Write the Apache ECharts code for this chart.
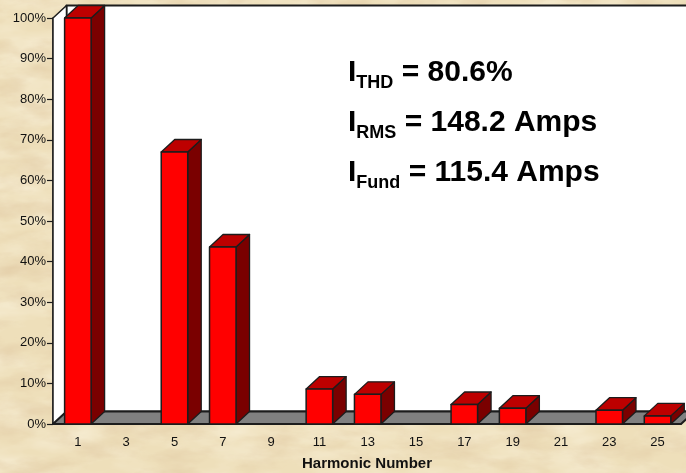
<!DOCTYPE html>
<html>
<head>
<meta charset="utf-8">
<title></title>
<script src="https://cdn.jsdelivr.net/npm/echarts@6/dist/echarts.min.js"></script>
<style>
html,body{margin:0;padding:0;width:686px;height:473px;overflow:hidden;background:#eedfba;}
#tex{position:absolute;left:0;top:0;}
#main{position:absolute;left:0;top:0;width:686px;height:473px;}
</style>
</head>
<body>
<svg id="tex" width="686" height="473">
	<filter id="paper" x="0" y="0" width="100%" height="100%">
		<feTurbulence type="fractalNoise" baseFrequency="0.015 0.04" numOctaves="4" seed="7"/>
		<feColorMatrix type="matrix" values="0 0 0 0 0.96  0 0 0 0 0.90  0 0 0 0 0.74  1.2 0 0 0 -0.45"/>
	</filter>
	<filter id="stain" x="0" y="0" width="100%" height="100%">
		<feTurbulence type="fractalNoise" baseFrequency="0.02 0.05" numOctaves="5" seed="21"/>
		<feColorMatrix type="matrix" values="0 0 0 0 0.76  0 0 0 0 0.60  0 0 0 0 0.38  0 1.5 0 0 -0.62"/>
	</filter>
	<rect width="686" height="473" filter="url(#paper)"/>
	<rect width="686" height="473" filter="url(#stain)"/>
</svg>
<div id="main"></div>
<script>
var categories = ['1','3','5','7','9','11','13','15','17','19','21','23','25'];
var values = [100,0,67,43.6,0,8.6,7.3,0,4.8,3.9,0,3.4,2];
var readings = [
	['THD',' = 80.6%'],
	['RMS',' = 148.2 Amps'],
	['Fund',' = 115.4 Amps']
];

var depthX = 13.5, depthY = 12.5;
var barW = 26.5;
var edge = '#1c1c1c';

function poly(points, fill, lw){
	return {type:'polygon', shape:{points:points}, style:{fill:fill, stroke:edge, lineWidth:lw, lineJoin:'round'}};
}

// walls and floor of the 3d box
function renderBox(params, api){
	var c = params.coordSys;
	var l = c.x, r = c.x + c.width, t = c.y, b = c.y + c.height;
	return {type:'group', children:[
		poly([[l+depthX,t-depthY],[r+depthX,t-depthY],[r+depthX,b-depthY],[l+depthX,b-depthY]],'#fff',2),
		poly([[l,t],[l+depthX,t-depthY],[l+depthX,b-depthY],[l,b]],'#fff',1.5),
		poly([[l,b],[l+depthX,b-depthY],[r+depthX,b-depthY],[r,b]],'#808080',2)
	]};
}

function renderBar(params, api){
	var v = api.value(1);
	if(!v) return null;
	var p = api.coord([api.value(0), v]);
	var base = api.coord([api.value(0), 0]);
	var x0 = p[0]+0.7-barW/2, x1 = p[0]+0.7+barW/2, y0 = p[1], y1 = base[1];
	return {type:'group', children:[
		poly([[x1,y0],[x1+depthX,y0-depthY],[x1+depthX,y1-depthY],[x1,y1]],'#7a0000',1.3),
		poly([[x0,y0],[x0+depthX,y0-depthY],[x1+depthX,y0-depthY],[x1,y0]],'#bd0000',1.3),
		poly([[x0,y0],[x1,y0],[x1,y1],[x0,y1]],'#ff0000',1.5)
	]};
}

var myChart = echarts.init(document.getElementById('main'));
var barData = [];
for(var i=0;i<values.length;i++){
	barData.push([i,values[i]]);
}

var textItems = [];
for(var j=0;j<readings.length;j++){
	textItems.push({
		type:'text', left:348, top:58+j*50, z:10,
		style:{
			text:'{m|I}{s|'+readings[j][0]+'}{m|'+readings[j][1]+'}',
			rich:{
				m:{font:'bold 30px "Liberation Sans"', fill:'#000', lineHeight:34, verticalAlign:'top'},
				s:{font:'bold 18px "Liberation Sans"', fill:'#000', lineHeight:20, verticalAlign:'bottom'}
			}
		}
	});
}

myChart.setOption({
	animation:false,
	grid:{left:53, top:18, width:628, height:406, containLabel:false, outerBoundsMode:'none'},
	xAxis:{
		type:'category',
		data:categories,
		name:'Harmonic Number',
		nameLocation:'middle',
		nameGap:32,
		nameTextStyle:{color:'#111', fontFamily:'Liberation Sans', fontWeight:'bold', fontSize:15},
		axisLine:{lineStyle:{color:'#1c1c1c', width:1.5}},
		axisTick:{alignWithLabel:false, length:7, lineStyle:{color:'#1c1c1c', width:1.2}},
		axisLabel:{color:'#111', fontFamily:'Liberation Sans', fontSize:13, margin:12, interval:0, padding:[0,0,0,1.5]}
	},
	yAxis:{
		type:'value',
		min:0,
		max:100,
		interval:10,
		splitLine:{show:false},
		axisLine:{show:true, lineStyle:{color:'#1c1c1c', width:1.5}},
		axisTick:{show:true, length:6, lineStyle:{color:'#1c1c1c', width:1.2}},
		axisLabel:{color:'#111', fontFamily:'Liberation Sans', fontSize:13, margin:7, formatter:'{value}%'}
	},
	graphic:textItems,
	series:[
		{type:'custom', renderItem:renderBox, data:[[0,0]], clip:false, silent:true, z:1},
		{type:'custom', renderItem:renderBar, data:barData, encode:{x:0,y:1}, clip:false, z:3}
	]
});
</script>
</body>
</html>
